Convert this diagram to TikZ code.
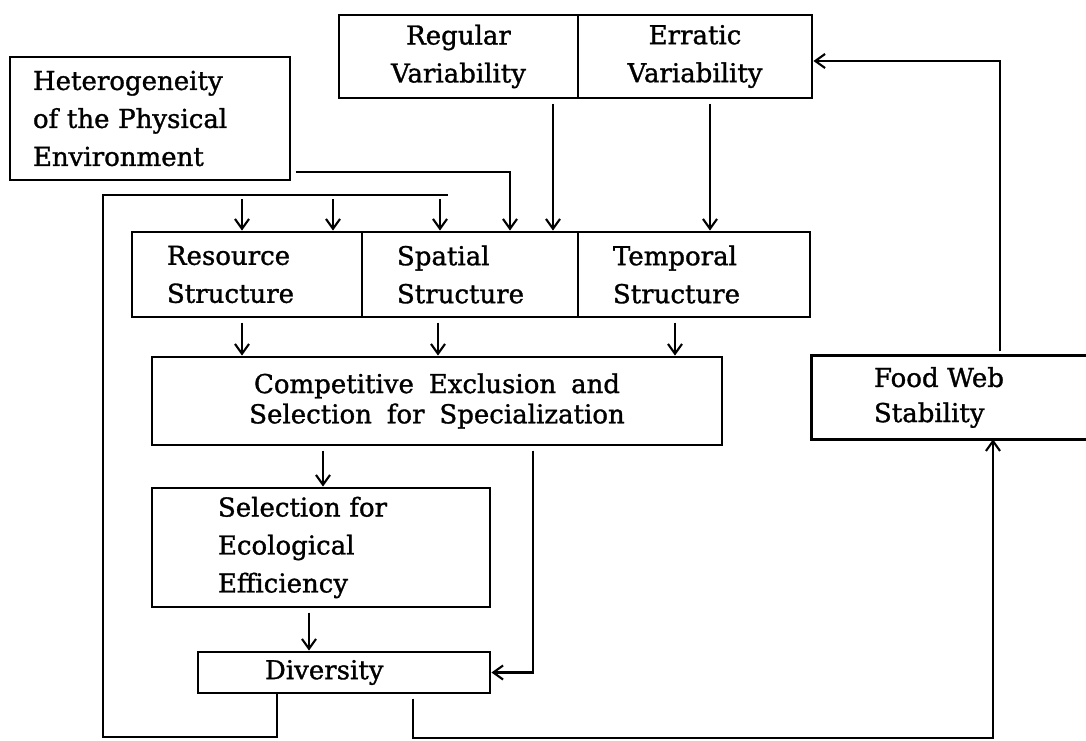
\documentclass[tikz,border=0pt]{standalone}
\usepackage{fontspec}
\setmainfont{DejaVu Serif}[WordSpace=1.8, FakeBold=1.2]
\usetikzlibrary{arrows.meta}

\begin{document}
\begin{tikzpicture}[x=0.025cm, y=-0.025cm,
    caja/.style={draw, line width=2pt, inner ysep=2pt, font=\fontsize{18.5}{27}\selectfont},
    flecha/.style={line width=1.5pt, shorten <=3pt, -{Straight Barb[length=7pt,width=10pt]}},
    linea/.style={line width=1.5pt}]
    \useasboundingbox (0,0) rectangle (1086,741);

    % Variabilidad regular y erratica
    \node[caja, minimum width=5.975cm, minimum height=2.075cm, align=center] (regvar) at (458.5,56.5) {Regular\\Variability};
    \node[caja, minimum width=5.85cm, minimum height=2.075cm, align=center] (errvar) at (695,56.5) {Erratic\\Variability};

    % Heterogeneidad del ambiente
    \node[caja, inner xsep=0.575cm, text width=5.85cm, minimum height=3.075cm, align=left] (het) at (150,118.5) {Heterogeneity\\of the Physical\\Environment};

    % Estructuras
    \node[caja, inner xsep=0.875cm, text width=4cm, minimum height=2.125cm, align=left] (res) at (247,274.5) {Resource\\Structure};
    \node[caja, inner xsep=0.875cm, text width=3.65cm, minimum height=2.125cm, align=left] (spa) at (470,274.5) {Spatial\\Structure};
    \node[caja, inner xsep=0.875cm, text width=4.05cm, minimum height=2.125cm, align=left] (tem) at (694,274.5) {Temporal\\Structure};

    % Exclusion competitiva, seleccion y diversidad
    \node[caja, minimum width=14.25cm, minimum height=2.2cm, align=center, font=\fontsize{18.5}{21.5}\selectfont] (comp) at (437,401) {Competitive Exclusion and\\Selection for Specialization};
    \node[caja, inner xsep=1.65cm, text width=5.15cm, minimum height=2.975cm, align=left] (sel) at (321,547.5) {Selection for\\Ecological\\Efficiency};
    \node[caja, inner xsep=1.675cm, text width=3.95cm, minimum height=1.025cm, align=left] (div) at (344,672.5) {Diversity};

    % Estabilidad de la red trofica (abierta a la derecha)
    \node[inner xsep=1.55cm, inner ysep=2pt, text width=3.75cm, minimum height=2.075cm, align=left, font=\fontsize{18.5}{25}\selectfont] (fws) at (949,397.5) {Food Web\\Stability};
    \draw[line width=2pt] (fws.north east) -- (fws.north west) -- (fws.south west) -- (fws.south east);

    % Flechas desde arriba
    \draw[flecha] (het.east |- 0,172) -| (510,0 |- spa.north);
    \draw[flecha] (553,0 |- regvar.south) -- (553,0 |- spa.north);
    \draw[flecha] (710,0 |- errvar.south) -- (710,0 |- tem.north);

    % Retroalimentacion desde la diversidad
    \coordinate (bus) at (448,195);
    \draw[linea] (277,0 |- div.south) |- (103,737) |- (bus);
    \foreach \x in {242,333}
        \draw[flecha] (\x,195) -- (\x,0 |- res.north);
    \draw[flecha] (440,195) -- (440,0 |- spa.north);

    % Hacia la exclusion competitiva
    \draw[flecha] (242,0 |- res.south) -- (242,0 |- comp.north);
    \draw[flecha] (438,0 |- spa.south) -- (438,0 |- comp.north);
    \draw[flecha] (675,0 |- tem.south) -- (675,0 |- comp.north);

    % Seleccion y diversidad
    \draw[flecha] (323,0 |- comp.south) -- (323,0 |- sel.north);
    \draw[flecha] (309,0 |- sel.south) -- (309,0 |- div.north);
    \draw[flecha] (533,0 |- comp.south) |- (div.east);

    % Diversidad y estabilidad
    \coordinate (esq) at (993,738);
    \draw[flecha] (413,0 |- div.south) |- (esq) -- (993,0 |- fws.south);
    \draw[flecha] (1000,0 |- fws.north) |- (errvar.east |- 0,61);
\end{tikzpicture}
\end{document}
